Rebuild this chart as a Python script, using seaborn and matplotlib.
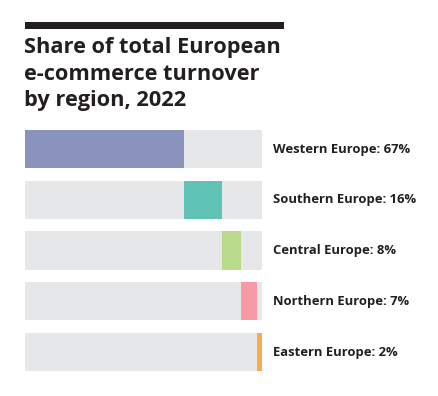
import matplotlib
matplotlib.use("Agg")
import matplotlib.pyplot as plt
import matplotlib.patches as mpatches
import seaborn as sns
import pandas as pd
import numpy as np

# 数据
regions = ["Western Europe", "Southern Europe", "Central Europe", "Northern Europe", "Eastern Europe"]
shares = [67, 16, 8, 7, 2]
colors = ["#8A93BC", "#5FC4B5", "#B8DA8A", "#F59BA5", "#FBAA4C"]
title_lines = ["Share of total European", "e-commerce turnover", "by region, 2022"]

df = pd.DataFrame({"region": regions, "share": shares})
df["end"] = df["share"].cumsum()
df["start"] = df["end"] - df["share"]
df["total"] = 100

sns.set_style("white")
plt.rcParams["font.family"] = ["Open Sans", "DejaVu Sans"]

W, H = 438, 396
fig = plt.figure(figsize=(W / 100, H / 100), dpi=100)
ax = fig.add_axes([25 / W, 18.6 / H, 237 / W, 253.75 / H])

grey = "#E6E7E9"
bar_kw = dict(width=0.75, saturation=1, linewidth=0, edgecolor="none", ax=ax)
# 背景灰条
sns.barplot(data=df, x="total", y="region", color=grey, **bar_kw)
# 彩色段（到累计终点）
sns.barplot(data=df, x="end", y="region", hue="region", palette=colors, legend=False, **bar_kw)
# 用灰色盖住起点之前的部分
sns.barplot(data=df, x="start", y="region", color=grey, **bar_kw)

ax.set_xlim(0, 100)
ax.set_ylim(4.5, -0.5)
ax.axis("off")

for i, (r, s) in enumerate(zip(regions, shares)):
    ax.text(104.6, i, f"{r}: {s}%", va="center", ha="left", fontsize=9.4,
            fontweight="bold", color="#231F20", clip_on=False)

# 顶部黑条
fig.add_artist(mpatches.Rectangle((25 / W, 1 - 29 / H), 259 / W, 7 / H,
                                  transform=fig.transFigure, color="#231F20", lw=0))

for k, line in enumerate(title_lines):
    fig.text(24 / W, 1 - (47 + 27 * k) / H, line, fontsize=15.7, fontweight="bold",
             color="#231F20", va="center", ha="left")

fig.savefig("out.png", dpi=100)
